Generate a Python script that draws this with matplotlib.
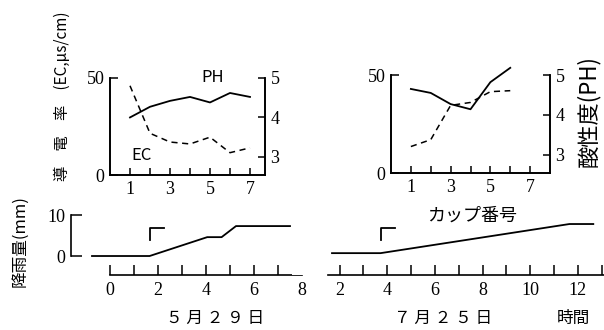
import matplotlib
matplotlib.use("Agg")
import matplotlib.pyplot as plt

plt.rcParams['font.family'] = ['Liberation Serif', 'Noto Sans CJK JP', 'DejaVu Sans']
plt.rcParams['axes.linewidth'] = 1.2

# cup experiments (cup number on x)
cups_529 = [1, 2, 3, 4, 5, 6, 7]
ec_529 = [46, 21.5, 17, 16, 19.5, 11.5, 14]
ph_529 = [4.0, 4.27, 4.42, 4.52, 4.38, 4.62, 4.52]

cups_725 = [1, 2, 3, 4, 5, 6]
ec_725 = [13.5, 17, 34.5, 36, 41.5, 42]
ph_725 = [4.65, 4.55, 4.27, 4.14, 4.82, 5.18]

# cumulative rainfall (hours, mm)
hours_529 = [-0.75, 1.65, 4.05, 4.65, 5.25, 7.5]
rain_529 = [0, 0, 4.6, 4.6, 7.3, 7.3]
hours_725 = [1.68, 3.72, 11.65, 12.65]
rain_725 = [0.7, 0.7, 7.8, 7.8]
start_529 = 1.65
start_725 = 3.72

W, H = 604, 330
fig = plt.figure(figsize=(W / 100, H / 100), dpi=100)
jp = 'Noto Sans CJK JP'


def px_axes(x0, y0, x1, y1):
    return fig.add_axes([x0 / W, 1 - y1 / H, (x1 - x0) / W, (y1 - y0) / H])


def cup_panel(ax, xmax, cups, ec, ph):
    ax.set_xlim(0, xmax)
    ax.set_ylim(0, 50)
    ax.spines['top'].set_visible(False)
    ax.set_xticks(range(1, 8))
    ax.set_xticklabels(['1', '', '3', '', '5', '', '7'])
    ax.set_yticks([0, 50])
    ax.tick_params(axis='x', direction='in', length=5, width=1.1, labelsize=13, pad=4)
    ax.tick_params(axis='y', direction='in', length=6, width=1.1, labelsize=13, pad=4)
    ax.plot(cups, ec, color='black', lw=1.1, ls=(0, (4, 3)))
    axr = ax.twinx()
    axr.set_ylim(2.54, 5)
    axr.set_yticks([3, 4, 5])
    axr.spines['top'].set_visible(False)
    axr.tick_params(axis='y', direction='in', length=5, width=1.1, labelsize=13, pad=4)
    axr.plot(cups, ph, color='black', lw=1.3, clip_on=False)
    return axr


ax1 = px_axes(110, 78, 265, 175)
cup_panel(ax1, 7.75, cups_529, ec_529, ph_529)
ax1.text(5.15, 50, 'PH', ha='center', va='center', fontsize=12, family=jp)
ax1.text(1.6, 10.3, 'EC', ha='center', va='center', fontsize=12, family=jp)

ax2 = px_axes(391, 75, 550, 173)
cup_panel(ax2, 8.0, cups_725, ec_725, ph_725)

fig.text(62 / W, 1 - 96 / H, '導　電　率　(EC,μs/cm)', rotation=90, ha='center', va='center',
         fontsize=11, family=jp)
fig.text(588 / W, 1 - 111 / H, '酸性度(PH)', rotation=90, ha='center', va='center',
         fontsize=16, family=jp)


def rain_panel(ax, xmin, xmax, hours, rain, start, tick_lo, tick_hi, span):
    ax.set_xlim(xmin, xmax)
    ax.set_ylim(-4.63, 10)
    for s in ['top', 'right']:
        ax.spines[s].set_visible(False)
    ax.spines['bottom'].set_bounds(*span)
    ax.set_xticks(range(tick_lo, tick_hi + 1))
    ax.set_xticklabels([str(t) if t % 2 == 0 else '' for t in range(tick_lo, tick_hi + 1)])
    ax.tick_params(axis='x', direction='in', length=7, width=1.1, labelsize=13, pad=5)
    ax.plot(hours, rain, color='black', lw=1.3, clip_on=False)
    # rain start mark
    ax.plot([start, start, start + 0.6], [4.0, 6.8, 6.8], color='black', lw=1.3)


ax3 = px_axes(71, 215, 302, 275)
rain_panel(ax3, -1.625, 8.0, hours_529, rain_529, start_529, 0, 8, (0, 8))
ax3.spines['left'].set_bounds(0, 10)
ax3.set_yticks([0, 10])
ax3.tick_params(axis='y', direction='in', length=8, width=1.1, labelsize=13, pad=4)

ax4 = px_axes(292, 215, 604, 275)
rain_panel(ax4, 0, 13.1, hours_725, rain_725, start_725, 2, 13, (1.5, 13.1))
ax4.spines['left'].set_visible(False)
ax4.set_yticks([])

fig.text(20 / W, 1 - 241 / H, '降雨量(mm)', rotation=90, ha='center', va='center',
         fontsize=12, family=jp)
fig.text(472 / W, 1 - 216 / H, 'カップ番号', ha='center', va='center', fontsize=13, family=jp)
fig.text(215 / W, 1 - 318 / H, '５ 月 ２ ９ 日', ha='center', va='center', fontsize=12, family=jp)
fig.text(443 / W, 1 - 318 / H, '７ 月 ２ ５ 日', ha='center', va='center', fontsize=12, family=jp)
fig.text(573 / W, 1 - 318 / H, '時間', ha='center', va='center', fontsize=12, family=jp)

fig.savefig('out.png', dpi=100)
